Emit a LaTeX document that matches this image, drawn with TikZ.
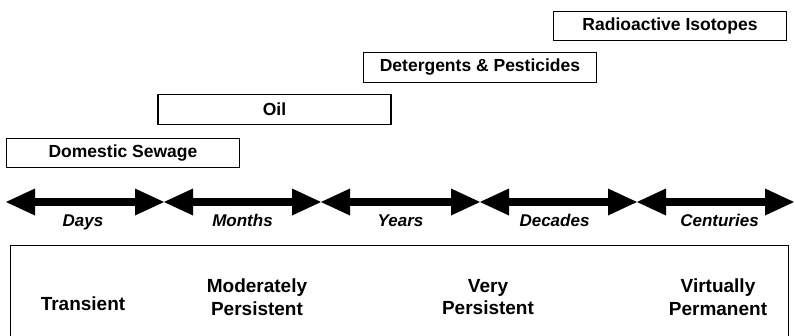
\documentclass[tikz,border=0pt]{standalone}
\usepackage{fontspec}
\setmainfont{Liberation Sans}
\usetikzlibrary{arrows.meta,calc}
\begin{document}
\begin{tikzpicture}[x=1pt,y=-1pt,
  pollutant/.style={draw, line width=1.3pt, minimum width=233pt, minimum height=29.5pt,
    inner sep=0pt, font=\fontsize{17.5}{20}\selectfont\bfseries},
  span/.style={line width=7.5pt,
    {Triangle[length=29pt,width=27pt,line width=0pt]}-{Triangle[length=29pt,width=27pt,line width=0pt]}},
  timelabel/.style={anchor=base, inner sep=0pt, font=\fontsize{17}{20}\selectfont\bfseries\itshape},
  classlabel/.style={align=center, inner sep=0pt, font=\fontsize{19}{22.5}\selectfont\bfseries}]
\useasboundingbox (0,0) rectangle (795,335);

% pollutant duration bars
\node[pollutant] (sewage)  at (123,153)   {Domestic Sewage};
\node[pollutant] (oil)     at (274.5,109.5) {Oil};
\node[pollutant] (deterg)  at (480,67.5)  {Detergents \& Pesticides};
\node[pollutant] (isotope) at (670,26)    {Radioactive Isotopes};

% time scale: five double-headed spans meeting tip to tip
\coordinate (t0) at (6,202);
\coordinate (t1) at (164,202);
\coordinate (t2) at (321,202);
\coordinate (t3) at (480,202);
\coordinate (t4) at (637,202);
\coordinate (t5) at (794,202);
\draw[span] (t0) -- (t1);
\draw[span] (t1) -- (t2);
\draw[span] (t2) -- (t3);
\draw[span] (t3) -- (t4);
\draw[span] (t4) -- (t5);

\node[timelabel] (days)      at ($(t0)!.5!(t1)+(-2,24)$) {Days};
\node[timelabel] (months)    at ($(t1)!.5!(t2)+(0,24)$)  {Months};
\node[timelabel] (years)     at ($(t2)!.5!(t3)+(0,24)$)  {Years};
\node[timelabel] (decades)   at ($(t3)!.5!(t4)+(-4,24)$) {Decades};
\node[timelabel] (centuries) at ($(t4)!.5!(t5)+(4,24)$)  {Centuries};

% persistence classes
\node[draw, line width=1.3pt, anchor=north west, minimum width=778pt, minimum height=100pt,
  inner sep=0pt] (classes) at (10,245) {};
\node[classlabel] (transient) at (83,304)  {Transient};
\node[classlabel] (moderate)  at (257,297) {Moderately\\Persistent};
\node[classlabel] (very)      at (488,297) {Very\\Persistent};
\node[classlabel] (permanent) at (718,297) {Virtually\\Permanent};
\end{tikzpicture}
\end{document}
